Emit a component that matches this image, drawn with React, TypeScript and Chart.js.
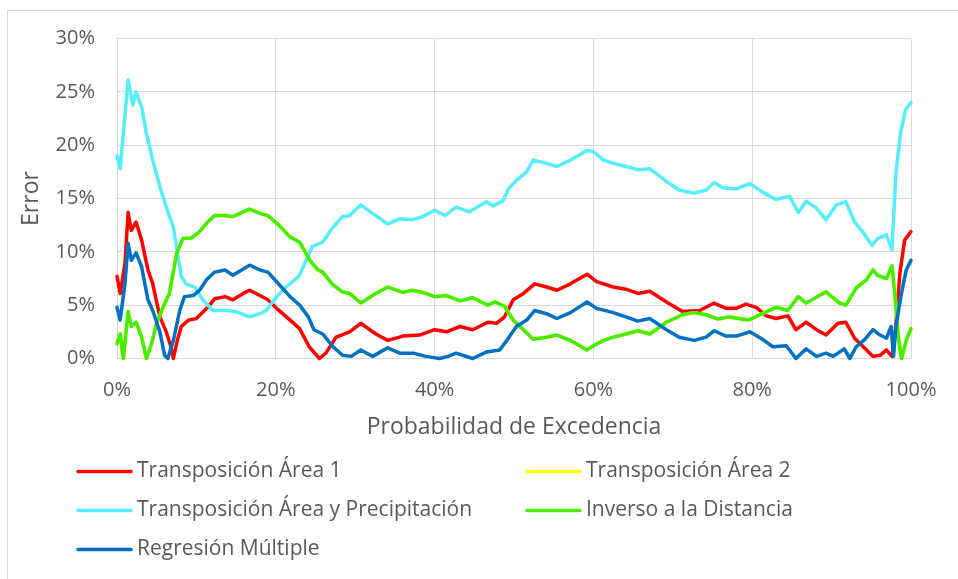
import React, { useEffect, useRef } from "react";
import { Chart, registerables } from "chart.js";

Chart.register(...registerables);

// Probabilidad de excedencia (%) and error (%) pairs
const transposicionArea1: [number, number][] = [
  [0, 7.7], [0.4, 6.1], [1, 8.9], [1.4, 13.7], [1.8, 12.0], [2.4, 12.8], [3.1, 11.1], [3.9, 8.3], [4.5, 7.0],
  [5.4, 3.9], [6.2, 2.5], [6.8, 1.1], [7.1, 0], [7.6, 1.7], [8.1, 3.0], [9, 3.6], [10, 3.75], [11.3, 4.7],
  [12.3, 5.6], [13.6, 5.8], [14.6, 5.5], [15.9, 6.1], [16.7, 6.4], [18, 5.9], [19, 5.5], [20.1, 4.7],
  [21.8, 3.6], [23, 2.8], [24.2, 1.1], [25.5, 0], [26.3, 0.5], [27.6, 2.0], [29.3, 2.5], [30.7, 3.3],
  [32.6, 2.3], [34.1, 1.7], [36, 2.1], [38.1, 2.2], [40, 2.7], [41.5, 2.5], [43.2, 3.0], [44.8, 2.7],
  [46.7, 3.4], [47.8, 3.3], [48.8, 3.9], [49.9, 5.5], [51.2, 6.1], [52.6, 7.0], [54.1, 6.7], [55.4, 6.4],
  [57.1, 7.0], [59.2, 7.9], [60.4, 7.2], [62.5, 6.7], [64.1, 6.5], [65.6, 6.1], [67.1, 6.3], [69.2, 5.3],
  [71.2, 4.4], [73.4, 4.5], [75.2, 5.2], [76.7, 4.7], [78, 4.7], [79.2, 5.1], [80.5, 4.8], [81.8, 4.0],
  [83, 3.75], [84.5, 4.0], [85.5, 2.7], [86.8, 3.4], [88.1, 2.7], [89.3, 2.2], [90.8, 3.3], [91.8, 3.4],
  [92.9, 1.9], [94.4, 0.8], [95.2, 0.2], [96.1, 0.3], [96.9, 0.8], [97.6, 0.2], [98, 2.3], [98.6, 8.0],
  [99.2, 11.1], [100, 11.9],
];

const inversoDistancia: [number, number][] = [
  [0, 1.4], [0.4, 2.3], [0.8, 0], [1.4, 4.4], [1.8, 3.0], [2.4, 3.4], [3.1, 2.0], [3.7, 0], [4.3, 1.25],
  [5, 3.3], [5.8, 4.8], [6.6, 6.1], [7.5, 9.8], [8.3, 11.25], [9.4, 11.3], [10.4, 11.9], [11.3, 12.7],
  [12.3, 13.4], [13.6, 13.4], [14.6, 13.3], [15.9, 13.75], [16.7, 14.0], [18, 13.6], [19, 13.4], [20.1, 12.7],
  [21.8, 11.4], [23, 10.9], [24.3, 9.2], [25.3, 8.3], [25.9, 8.1], [27.2, 6.9], [28.4, 6.25], [29.3, 6.1],
  [30.7, 5.2], [32.6, 6.1], [34.1, 6.7], [36, 6.2], [37.1, 6.4], [38.5, 6.2], [40, 5.8], [41.5, 5.9],
  [43.2, 5.4], [44.8, 5.7], [46.7, 5.0], [47.6, 5.3], [48.8, 4.9], [49.9, 3.6], [51.2, 2.7], [52.4, 1.8],
  [54.1, 2.0], [55.4, 2.2], [57.1, 1.7], [59.2, 0.8], [60, 1.2], [61.3, 1.7], [62.5, 2.0], [64.1, 2.3],
  [65.6, 2.6], [67.1, 2.3], [69.2, 3.4], [71.2, 4.1], [72.7, 4.3], [74.2, 4.1], [75.7, 3.7], [77.1, 3.9],
  [79.5, 3.6], [81.3, 4.2], [83, 4.8], [84.5, 4.5], [85.8, 5.8], [86.8, 5.2], [89.3, 6.25], [91, 5.2],
  [91.8, 5.0], [93.1, 6.6], [94.4, 7.4], [95.2, 8.3], [95.8, 7.8], [96.9, 7.5], [97.6, 8.7], [98, 5.8],
  [98.4, 2.0], [98.8, 0], [99.4, 1.7], [100, 2.8],
];

// Área 2 lies under Inverso a la Distancia in the reference
const transposicionArea2: [number, number][] = inversoDistancia.map(([x, y]) => [x, y]);

const transposicionAreaPrecip: [number, number][] = [
  [0, 19.0], [0.4, 17.8], [1.4, 26.1], [2, 23.75], [2.4, 25], [3.1, 23.6], [3.7, 21.1], [4.5, 18.6],
  [5.4, 16.1], [6.2, 14.2], [7.1, 12.3], [7.7, 9.5], [8.1, 7.7], [8.7, 7.0], [9.8, 6.7], [10.8, 5.5],
  [12.1, 4.5], [13.8, 4.5], [15, 4.4], [16.7, 3.9], [18, 4.2], [18.8, 4.5], [20.1, 5.8], [21.3, 6.7],
  [22.9, 7.7], [24.6, 10.5], [25.9, 10.9], [27.2, 12.3], [28.4, 13.3], [29.3, 13.4], [30.7, 14.4],
  [32.6, 13.4], [34.1, 12.6], [35.6, 13.1], [37.1, 13.0], [38.5, 13.3], [40, 13.9], [41.3, 13.4],
  [42.7, 14.2], [44.4, 13.75], [46.5, 14.7], [47.4, 14.3], [48.6, 14.8], [49.3, 15.9], [50.3, 16.7],
  [51.6, 17.5], [52.4, 18.6], [54.1, 18.3], [55.4, 18.0], [57.1, 18.6], [59.2, 19.5], [60, 19.4],
  [61.3, 18.6], [62.5, 18.3], [64.1, 18.0], [65.6, 17.7], [67.1, 17.8], [69.2, 16.6], [70.8, 15.8],
  [72.7, 15.5], [74.2, 15.8], [75.2, 16.5], [76.3, 16.0], [78, 15.9], [79.7, 16.4], [81.3, 15.6],
  [83, 14.9], [84.7, 15.2], [85.8, 13.7], [86.8, 14.75], [88.1, 14.1], [89.3, 13.0], [90.6, 14.4],
  [91.8, 14.7], [92.9, 12.8], [93.9, 11.9], [95.1, 10.6], [95.8, 11.25], [96.9, 11.6], [97.6, 10.2],
  [98.1, 17.4], [98.7, 21.2], [99.3, 23.3], [100, 24.0],
];

const regresionMultiple: [number, number][] = [
  [0, 4.8], [0.4, 3.6], [1, 7.0], [1.4, 10.8], [1.8, 9.2], [2.4, 9.9], [3.1, 8.6], [3.9, 5.5], [4.5, 4.5],
  [5.4, 2.5], [6, 0.3], [6.4, 0], [7.1, 1.7], [7.9, 4.5], [8.5, 5.8], [9.6, 5.9], [10.4, 6.4], [11.3, 7.4],
  [12.3, 8.1], [13.6, 8.3], [14.6, 7.8], [15.9, 8.4], [16.7, 8.75], [18, 8.3], [19, 8.1], [20.1, 7.2],
  [21.8, 5.8], [23, 5.0], [24.1, 3.9], [24.8, 2.7], [25.9, 2.3], [27.2, 1.1], [28.4, 0.3], [29.5, 0.2],
  [30.7, 0.8], [32.2, 0.2], [34.1, 1.0], [35.6, 0.5], [37.3, 0.5], [38.9, 0.2], [40.6, 0], [41.7, 0.2],
  [42.7, 0.5], [44.8, 0], [46.5, 0.6], [48.2, 0.8], [49.1, 1.7], [50.3, 3.0], [51.6, 3.6], [52.6, 4.5],
  [54.1, 4.2], [55.4, 3.75], [57.1, 4.3], [59.2, 5.3], [60.4, 4.7], [62.5, 4.3], [64.1, 3.9], [65.6, 3.5],
  [67.1, 3.75], [69.2, 2.7], [70.8, 2.0], [72.7, 1.7], [74.2, 2.0], [75.2, 2.6], [76.7, 2.1], [78, 2.1],
  [79.7, 2.5], [81.3, 1.8], [82.6, 1.1], [84.3, 1.2], [85.5, 0], [86.8, 0.9], [88.1, 0.2], [89.3, 0.5],
  [90.2, 0.2], [91.6, 0.9], [92.3, 0], [93.1, 1.1], [94.2, 1.8], [95.2, 2.7], [96.1, 2.2], [96.9, 1.9],
  [97.5, 3.0], [97.8, 0.2], [98.1, 3.0], [98.8, 6.1], [99.4, 8.3], [100, 9.2],
];

const seriesNames = [
  "Transposición Área 1",
  "Transposición Área 2",
  "Transposición Área y Precipitación",
  "Inverso a la Distancia",
  "Regresión Múltiple",
];
const seriesColors = ["#ff0000", "#ffff00", "#55eefa", "#44ee00", "#0070c0"];
const seriesData = [
  transposicionArea1,
  transposicionArea2,
  transposicionAreaPrecip,
  inversoDistancia,
  regresionMultiple,
];

const X_MIN = 0, X_MAX = 100, X_STEP = 20;
const Y_MIN = 0, Y_MAX = 30, Y_STEP = 5;
const xTitle = "Probabilidad de Excedencia";
const yTitle = "Error";

const FONT = "'Open Sans', 'Noto Sans', sans-serif";
const TEXT = "#595959";
const GRID = "#d9d9d9";

// legend grid: [column x, row y]
const legendSlots: [number, number][] = [
  [78, 471.5], [527, 471.5], [78, 510.5], [527, 510.5], [78, 549.5],
];

const gridLegend = {
  id: "gridLegend",
  afterDraw(chart: any) {
    const ctx = chart.ctx as CanvasRenderingContext2D;
    ctx.save();
    ctx.font = `21px ${FONT}`;
    ctx.textBaseline = "middle";
    ctx.textAlign = "left";
    chart.data.datasets.forEach((ds: any, i: number) => {
      const [x, y] = legendSlots[i];
      ctx.strokeStyle = ds.borderColor;
      ctx.lineWidth = 3.5;
      ctx.lineCap = "round";
      ctx.beginPath();
      ctx.moveTo(x, y);
      ctx.lineTo(x + 53, y);
      ctx.stroke();
      ctx.fillStyle = TEXT;
      ctx.fillText(ds.label, x + 59, y);
    });
    ctx.restore();
  },
};

export default function App() {
  const ref = useRef<HTMLCanvasElement | null>(null);
  useEffect(() => {
    if (!ref.current) return;
    const orders = [5, 4, 3, 2, 1];
    const chart = new Chart(ref.current, {
      type: "line",
      data: {
        datasets: seriesData.map((d, i) => ({
          label: seriesNames[i],
          data: d.map(([x, y]) => ({ x, y })),
          borderColor: seriesColors[i],
          backgroundColor: seriesColors[i],
          borderWidth: 3.5,
          pointRadius: 0,
          tension: 0,
          fill: false,
          clip: false as any,
          order: orders[i],
          borderJoinStyle: "round" as const,
          borderCapStyle: "round" as const,
        })),
      },
      options: {
        animation: false,
        responsive: false,
        maintainAspectRatio: false,
        layout: { padding: { top: 38.5, right: 47, bottom: 129, left: 0 } },
        plugins: {
          legend: { display: false },
          tooltip: { enabled: false },
        },
        scales: {
          x: {
            type: "linear",
            min: X_MIN,
            max: X_MAX,
            afterFit: (s: any) => { s.height = 91.5; },
            ticks: {
              stepSize: X_STEP,
              padding: 20,
              color: TEXT,
              font: { family: FONT, size: 20 },
              callback: (v: any) => `${v}%`,
              maxRotation: 0,
            },
            grid: { color: GRID, lineWidth: 1, drawTicks: false },
            border: { color: GRID, width: 1 },
            title: {
              display: true,
              text: xTitle,
              color: TEXT,
              font: { family: FONT, size: 23 },
              padding: { top: 0, bottom: 9 },
            },
          },
          y: {
            type: "linear",
            min: Y_MIN,
            max: Y_MAX,
            afterFit: (s: any) => { s.width = 117; },
            ticks: {
              stepSize: Y_STEP,
              padding: 22,
              color: TEXT,
              font: { family: FONT, size: 20 },
              callback: (v: any) => `${v}%`,
            },
            grid: { color: GRID, lineWidth: 1, drawTicks: false },
            border: { color: GRID, width: 1 },
            title: {
              display: true,
              text: yTitle,
              color: TEXT,
              font: { family: FONT, size: 23 },
              padding: { top: 18, bottom: 0 },
            },
          },
        },
      },
      plugins: [gridLegend],
    });
    return () => chart.destroy();
  }, []);

  return (
    <div style={{ position: "fixed", left: 0, top: 0, width: 958, height: 579, background: "#fff", overflow: "hidden" }}>
      <div style={{ position: "absolute", left: 7, top: 10, width: 1000, height: 1000, border: `1px solid ${GRID}`, boxSizing: "border-box" }} />
      <canvas ref={ref} width={958} height={579} style={{ position: "absolute", left: 0, top: 0, width: 958, height: 579 }} />
    </div>
  );
}
